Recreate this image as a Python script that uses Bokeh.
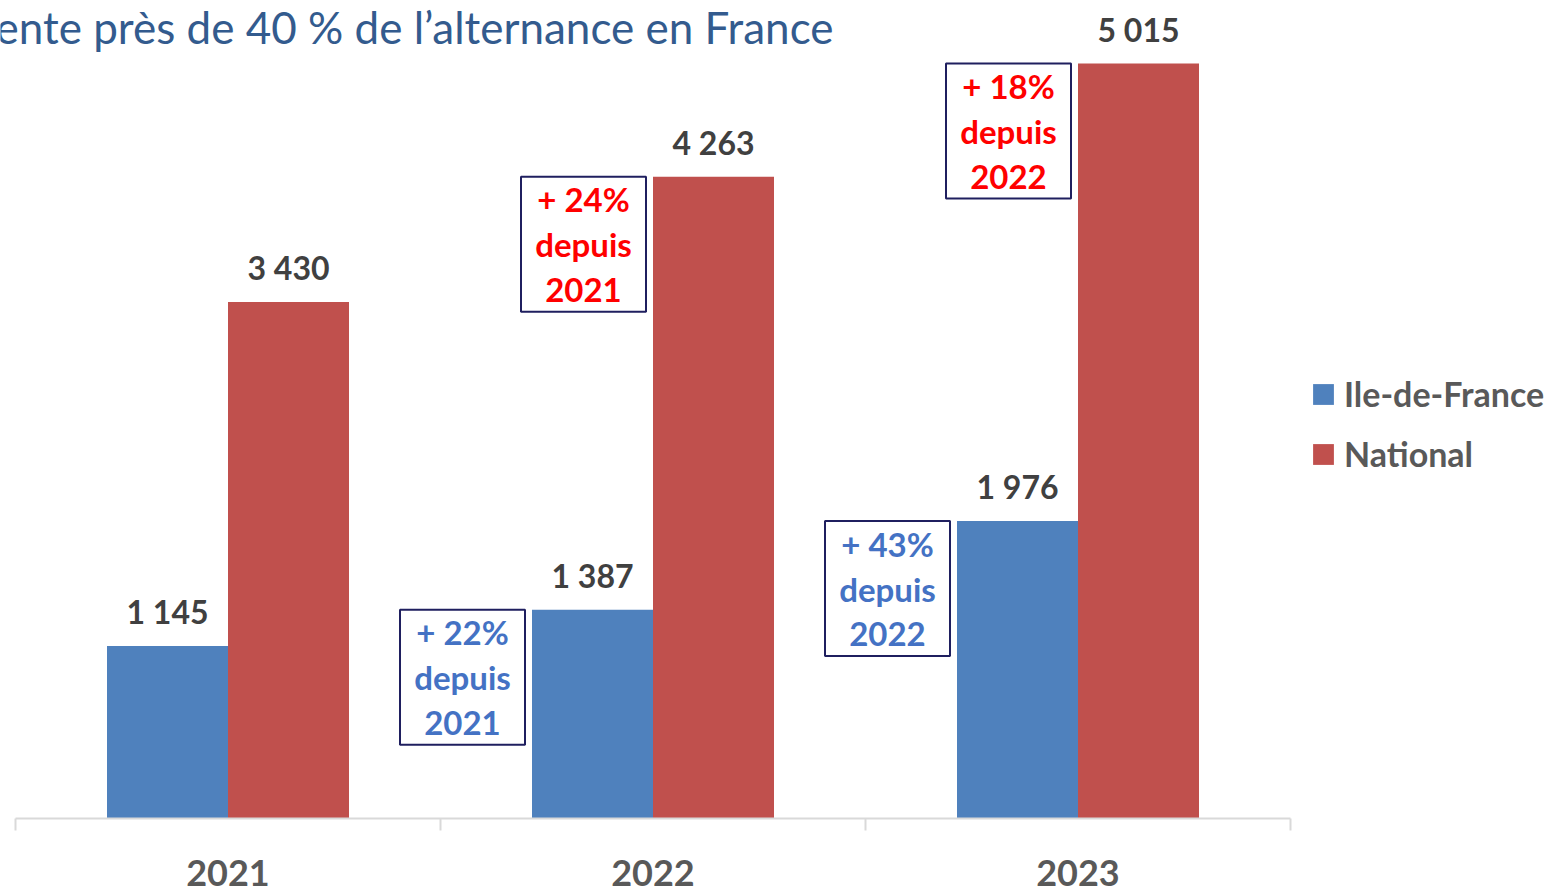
from bokeh.plotting import figure
from bokeh.models import (Range1d, FixedTicker, Label, Legend, LegendItem, ColumnDataSource)
from bokeh.core.properties import value
from bokeh.embed import file_html
from bokeh.resources import INLINE

# ---- data ----
years = ["2021", "2022", "2023"]
idf = [1145, 1387, 1976]
national = [3430, 4263, 5015]
series_names = ["Ile-de-France", "National"]
idf_growth = [None, "+ 22%\ndepuis\n2021", "+ 43%\ndepuis\n2022"]
nat_growth = [None, "+ 24%\ndepuis\n2021", "+ 18%\ndepuis\n2022"]
title_text = "ente près de 40 % de l\u2019alternance en France"

# ---- style / layout ----
BLUE = "#4F81BD"
RED = "#C0504D"
LABEL = "#404040"
AXIS_TXT = "#595959"
FONT = "Lato"

W, H = 1550, 889
X0_PX, X3_PX = 15, 1290        # pixel positions of category boundaries
Y0_PX, YTOP_PX = 818, 63       # pixel of value 0 and of the maximum bar
px_x = (X3_PX - X0_PX) / len(years)
px_y = (Y0_PX - YTOP_PX) / max(national)

def sx(px):
    return (px - X0_PX) / px_x

def sy(py):
    return (Y0_PX - py) / px_y

p = figure(width=W, height=H, output_backend="svg", toolbar_location=None,
           x_range=Range1d(sx(0), sx(W)), y_range=Range1d(sy(H), sy(0)),
           min_border=0)
p.outline_line_color = None
p.background_fill_color = "white"
p.border_fill_color = "white"
p.xgrid.visible = False
p.ygrid.visible = False
p.yaxis.visible = False

bw = 121 / px_x
centers = [i + 0.5 for i in range(len(years))]
xb = [c - bw / 2 for c in centers]
xr = [c + bw / 2 for c in centers]

def fmt(v):
    return f"{v:,}".replace(",", " ")

src = ColumnDataSource(dict(xb=xb, xr=xr, idf=idf, nat=national,
                            idf_lbl=[fmt(v) for v in idf],
                            nat_lbl=[fmt(v) for v in national]))

rb = p.vbar(x="xb", top="idf", width=bw, source=src, color=BLUE, line_color=None)
rr = p.vbar(x="xr", top="nat", width=bw, source=src, color=RED, line_color=None)

for xcol, ycol, lcol in (("xb", "idf", "idf_lbl"), ("xr", "nat", "nat_lbl")):
    p.text(x=xcol, y=ycol, text=lcol, source=src,
           text_align="center", text_baseline="bottom", y_offset=-15,
           text_font=value(FONT), text_font_style="bold", text_font_size="32px",
           text_color=LABEL)

# growth boxes
box_w = 125 / px_x
box_h = 135 / px_y
gap = 7 / px_x
for xs, vals, growth, tcol in ((xb, idf, idf_growth, "#4472C4"),
                               (xr, national, nat_growth, "#FF0000")):
    for x, v, g in zip(xs, vals, growth):
        if g is None:
            continue
        right = x - bw / 2 - gap
        left = right - box_w
        top = v
        bottom = v - box_h
        p.quad(left=left, right=right, top=top, bottom=bottom,
               fill_color="white", line_color="#1F1F5F", line_width=2)
        p.text(x=(left + right) / 2, y=(top + bottom) / 2, text=[g],
               text_align="center", text_baseline="middle",
               text_font=value(FONT), text_font_style="bold",
               text_font_size="33px", text_color=tcol, text_line_height=1.12)

# x axis, drawn at value 0
ax = p.xaxis[0]
ax.fixed_location = 0
ax.bounds = (0, len(years))
ax.ticker = FixedTicker(ticks=centers, minor_ticks=list(range(len(years) + 1)))
ax.major_label_overrides = {c: y for c, y in zip(centers, years)}
ax.major_label_text_font = FONT
ax.major_label_text_font_style = "bold"
ax.major_label_text_font_size = "36px"
ax.major_label_text_color = AXIS_TXT
ax.major_label_standoff = 29
ax.major_tick_line_color = None
ax.major_tick_out = 0
ax.major_tick_in = 0
ax.minor_tick_line_color = "#D9D9D9"
ax.minor_tick_line_width = 2
ax.minor_tick_out = 12
ax.minor_tick_in = 0
ax.axis_line_color = "#D9D9D9"
ax.axis_line_width = 2

# title (cut off at left as in the original)
p.add_layout(Label(x=sx(833), y=sy(26), text=title_text,
                   text_align="right", text_baseline="middle", text_font=FONT,
                   text_font_size="44px", text_color="#335B8E"))

legend = Legend(items=[LegendItem(label=series_names[0], renderers=[rb]),
                       LegendItem(label=series_names[1], renderers=[rr])],
                location=(1310, H - 474), orientation="vertical",
                glyph_width=26, glyph_height=26, label_height=26, spacing=19,
                label_standoff=8, padding=0, margin=0, border_line_color=None,
                background_fill_alpha=0,
                label_text_font=FONT, label_text_font_style="bold",
                label_text_font_size="34px", label_text_color=AXIS_TXT,
                label_text_baseline="middle")
p.add_layout(legend)

open("out.html", "w").write(file_html(p, INLINE))
